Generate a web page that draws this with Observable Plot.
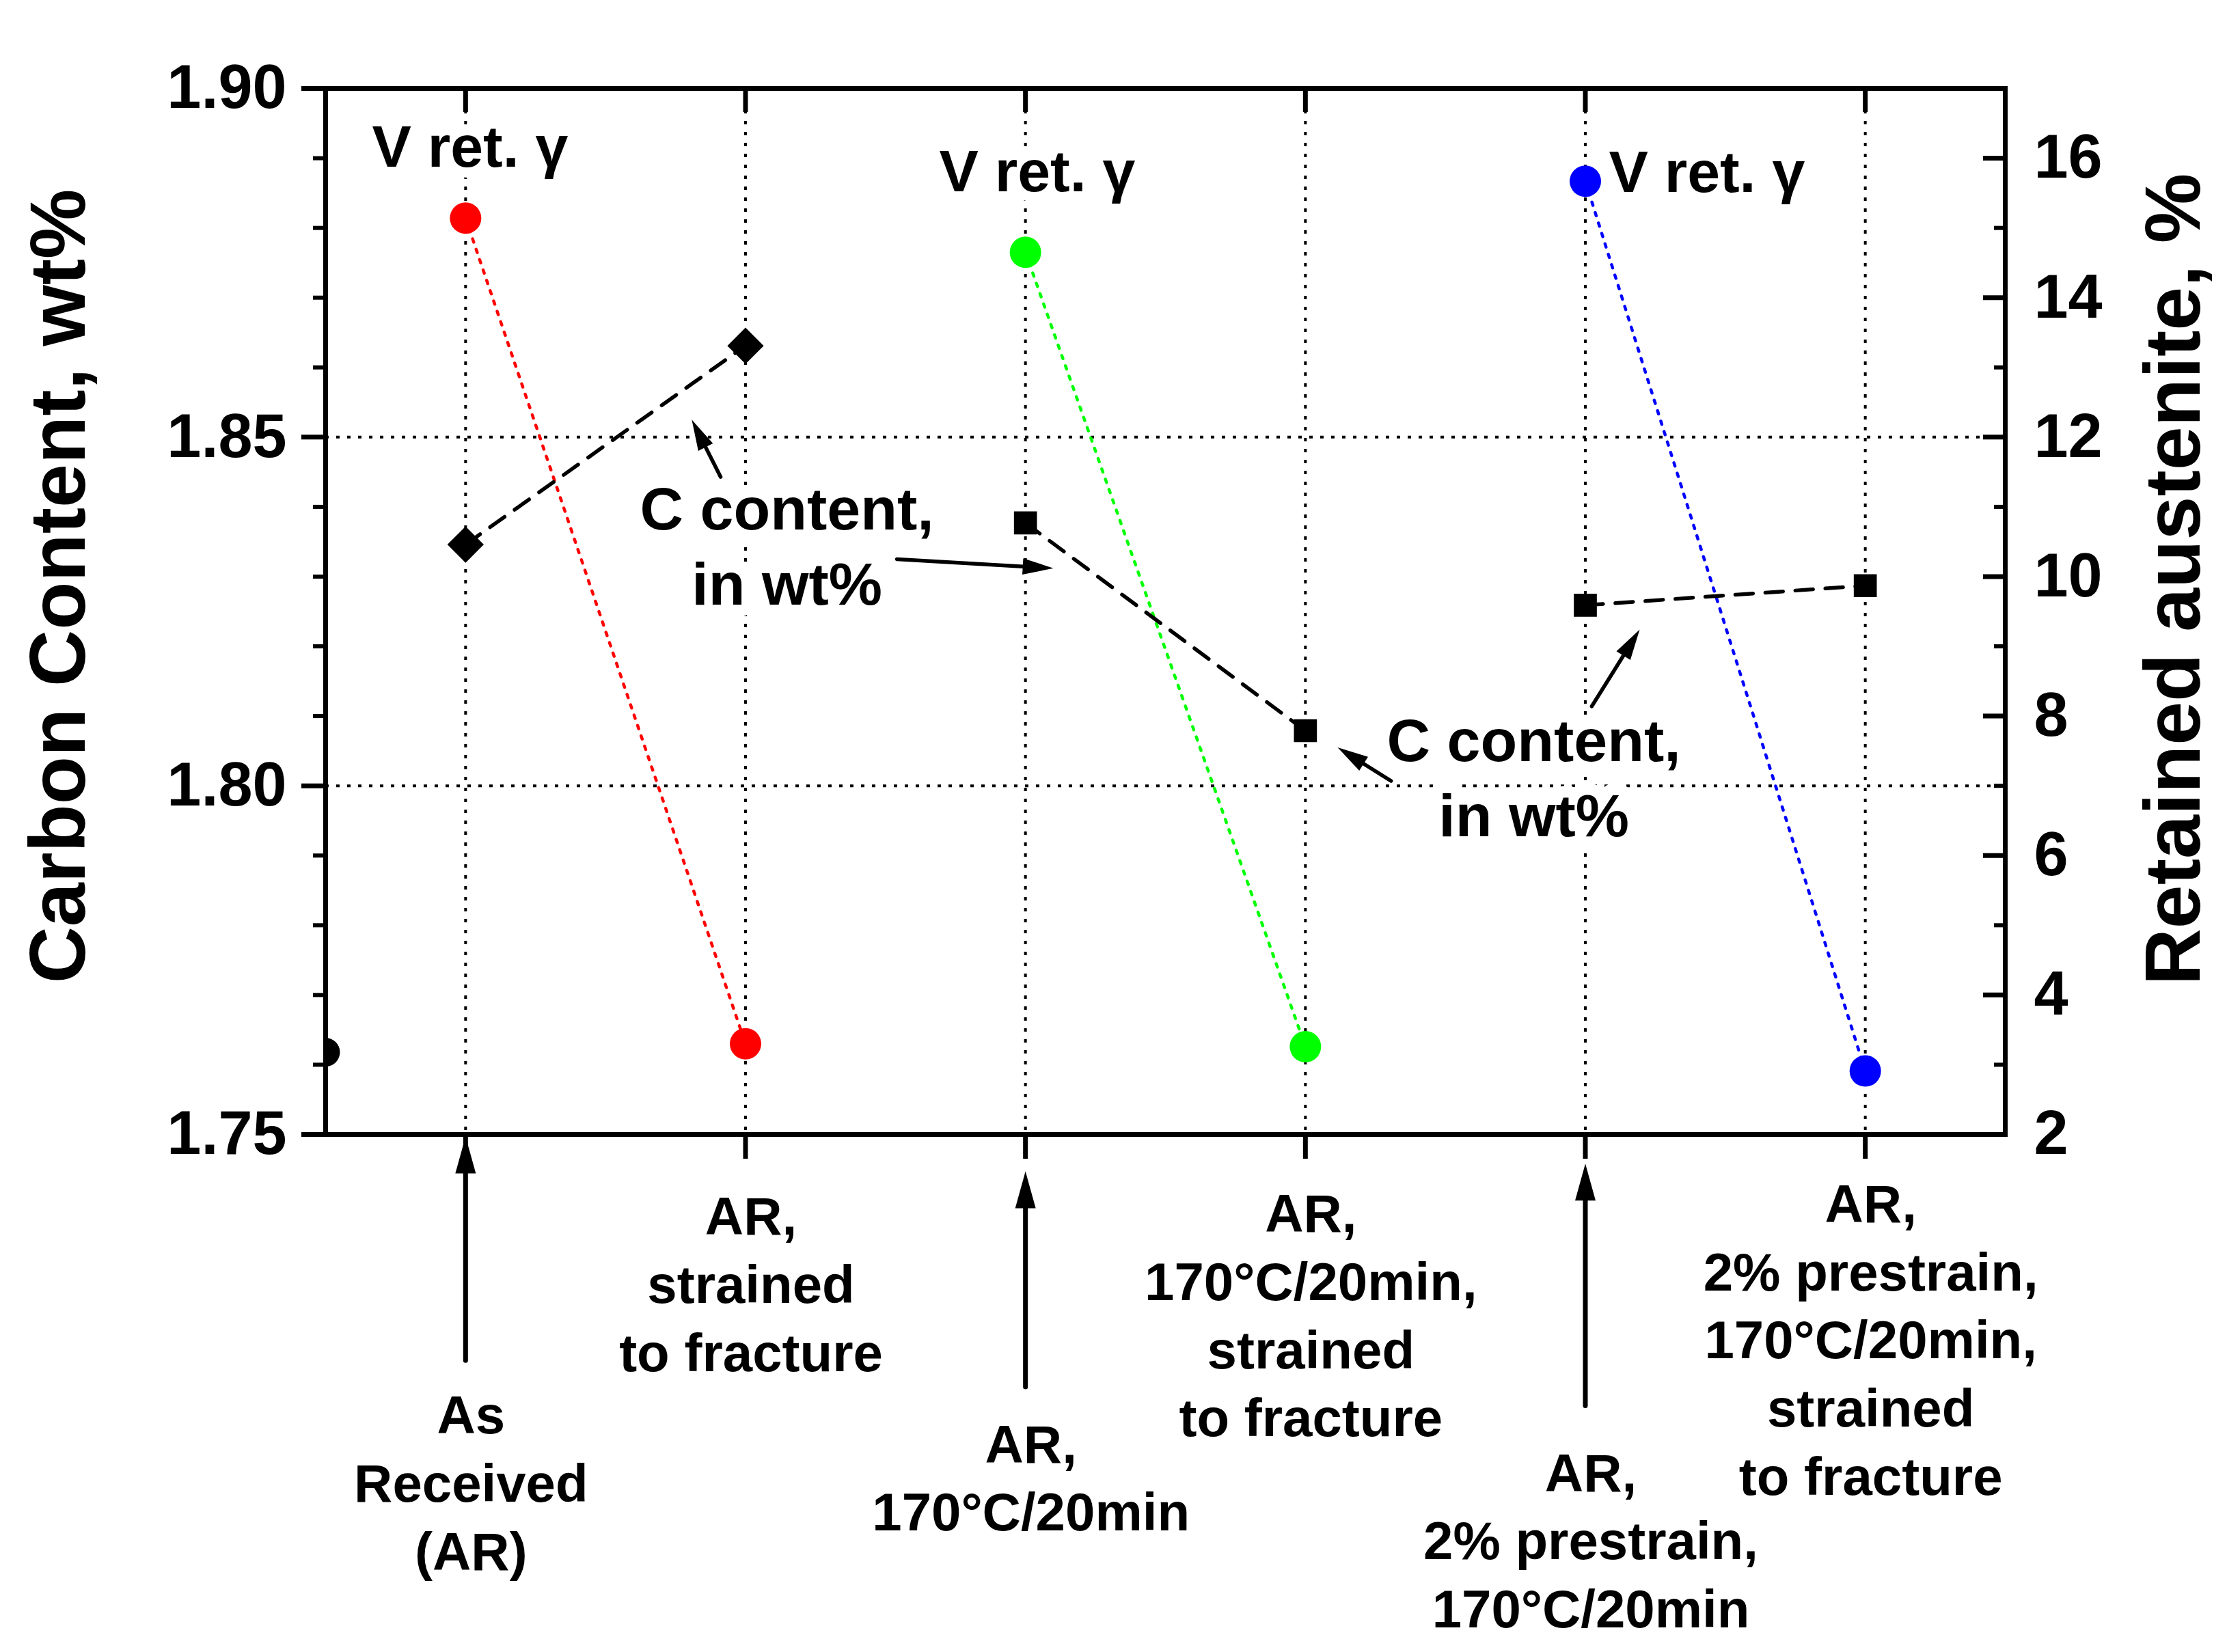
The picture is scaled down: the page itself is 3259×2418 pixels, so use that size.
<!DOCTYPE html>
<html>
<head>
<meta charset="utf-8">
<script src="https://cdn.jsdelivr.net/npm/d3@7"></script>
<script src="https://cdn.jsdelivr.net/npm/@observablehq/plot@0.6"></script>
<style>
html, body { margin: 0; padding: 0; background: #ffffff; }
</style>
</head>
<body>
<div id="chart"></div>
<script>
// ---------------- data ----------------
const categories = [1, 2, 3, 4, 5, 6];
const categoryLabels = [
  "As\nReceived\n(AR)",
  "AR,\nstrained\nto fracture",
  "AR,\n170°C/20min",
  "AR,\n170°C/20min,\nstrained\nto fracture",
  "AR,\n2% prestrain,\n170°C/20min",
  "AR,\n2% prestrain,\n170°C/20min,\nstrained\nto fracture"
];
const carbonContent = [1.8346, 1.8631, 1.8377, 1.8079, 1.8259, 1.8287];   // wt%
const retainedAustenite = [15.14, 3.30, 14.65, 3.26, 15.67, 2.91];        // %
const pairIndex = [0, 0, 1, 1, 2, 2];
const leftTicks = [1.75, 1.80, 1.85, 1.90];
const rightTicks = [2, 4, 6, 8, 10, 12, 14, 16];
const strayPoint = [{x: 0.5, c: 1.7618}];

// ---------------- layout ----------------
const W = 3259, H = 2418;
const mL = 476, mR = 325, mT = 129, mB = 758;
const xDomain = [0.5, 6.5];
const yDomain = [1.75, 1.90];
const raDomain = [2, 17];
const raToC = v => yDomain[0] + (v - raDomain[0]) * (yDomain[1] - yDomain[0]) / (raDomain[1] - raDomain[0]);
const cToRa = c => raDomain[0] + (c - yDomain[0]) * (raDomain[1] - raDomain[0]) / (yDomain[1] - yDomain[0]);
const kx = (W - mL - mR) / (xDomain[1] - xDomain[0]);
const ky = (H - mT - mB) / (yDomain[1] - yDomain[0]);

const rows = categories.map((x, i) => ({
  x, carbon: carbonContent[i], ra: raToC(retainedAustenite[i]), pair: pairIndex[i]
}));
const pairColors = ["#ff0000", "#00ff00", "#0000ff"];

const leftMinor = d3.range(1.75, 1.9001, 0.01).map(v => +v.toFixed(2)).filter(v => !leftTicks.includes(v));
const rightMajor = rightTicks.map(raToC);
const rightMinor = d3.range(3, 16, 2).map(raToC);

// annotation arrows (tail -> tip, in data units)
const innerArrows = [
  {x1: 1.911, y1: 1.8443, x2: 1.808, y2: 1.8525},
  {x1: 2.541, y1: 1.8325, x2: 3.100, y2: 1.8312},
  {x1: 4.306, y1: 1.8007, x2: 4.115, y2: 1.8055},
  {x1: 5.023, y1: 1.8114, x2: 5.194, y2: 1.8224}
];
const bottomArrows = [
  {x1: 1, y1: 1.7176, x2: 1, y2: 1.7497},
  {x1: 3, y1: 1.7138, x2: 3, y2: 1.7447},
  {x1: 5, y1: 1.7111, x2: 5, y2: 1.7458}
];
function headSymbol(len, wid) {
  return {draw(ctx) { ctx.moveTo(0, 0); ctx.lineTo(-wid / 2, len); ctx.lineTo(wid / 2, len); ctx.closePath(); }};
}
function prepArrow(a, len) {
  const dx = (a.x2 - a.x1) * kx, dy = (a.y2 - a.y1) * ky;
  const L = Math.hypot(dx, dy);
  const f = Math.min(1, len * 0.7 / L);
  return {...a, sx: a.x2 - (a.x2 - a.x1) * f, sy: a.y2 - (a.y2 - a.y1) * f,
          angle: Math.atan2(dx, dy) * 180 / Math.PI};
}
const innerA = innerArrows.map(a => prepArrow(a, 45));
const bottomA = bottomArrows.map(a => prepArrow(a, 54));

const vretLabels = [
  {x: 0.666, y: 1.8915, t: "V ret. γ"},
  {x: 2.692, y: 1.8880, t: "V ret. γ"},
  {x: 5.084, y: 1.8879, t: "V ret. γ"}
];
const cLabels = [
  {x: 2.148, y: 1.8348, t: "C content,\nin wt%"},
  {x: 4.816, y: 1.8016, t: "C content,\nin wt%"}
];
const labelY = [1.7005, 1.7290, 1.7012, 1.7245, 1.6922, 1.7210];
const bottomLabels = categories.map((x, i) => ({x, y: labelY[i], t: categoryLabels[i]}));

const halo = {stroke: "white", strokeWidth: 34, strokeLinejoin: "round", paintOrder: "stroke", fill: "black"};

const chart = Plot.plot({
  width: W, height: H,
  marginLeft: mL, marginRight: mR, marginTop: mT, marginBottom: mB,
  style: {fontFamily: "'Liberation Sans', Arial, sans-serif", fontWeight: "bold", background: "white", color: "black", overflow: "visible"},
  x: {type: "linear", domain: xDomain, label: null},
  y: {type: "linear", domain: yDomain, label: null},
  marks: [
    // grid
    Plot.ruleY([1.80, 1.85], {stroke: "black", strokeWidth: 4, strokeDasharray: "5,11"}),
    Plot.ruleX(categories, {stroke: "black", strokeWidth: 4, strokeDasharray: "5,11"}),
    // annotation texts with white halo
    Plot.text(vretLabels, {x: "x", y: "y", text: "t", textAnchor: "start", fontSize: 86, ...halo, strokeWidth: 30}),
    Plot.text(cLabels, {x: "x", y: "y", text: "t", fontSize: 88, lineHeight: 1.25, lineAnchor: "middle", ...halo}),
    // retained austenite dotted lines
    Plot.line(rows, {x: "x", y: "ra", z: "pair", stroke: d => pairColors[d.pair], strokeWidth: 4.5, strokeDasharray: "5,11"}),
    // carbon dashed lines
    Plot.line(rows, {x: "x", y: "carbon", z: "pair", stroke: "black", strokeWidth: 5.5, strokeDasharray: "26,18"}),
    // markers
    Plot.dot(rows, {x: "x", y: "ra", r: 23, fill: d => pairColors[d.pair], stroke: "none"}),
    Plot.dot(rows.filter(d => d.pair === 0), {x: "x", y: "carbon", symbol: "diamond2", r: 24, fill: "black", stroke: "none"}),
    Plot.dot(rows.filter(d => d.pair > 0), {x: "x", y: "carbon", symbol: "square", r: 19, fill: "black", stroke: "none"}),
    Plot.dot(strayPoint, {x: "x", y: "c", r: 21, fill: "black", stroke: "none", clip: true}),
    // inner arrows
    Plot.link(innerA, {x1: "x1", y1: "y1", x2: "sx", y2: "sy", stroke: "black", strokeWidth: 5.5, strokeLinecap: "round"}),
    Plot.dot(innerA, {x: "x2", y: "y2", rotate: "angle", symbol: headSymbol(45, 24), fill: "black", stroke: "none"}),
    // frame and axes
    Plot.frame({stroke: "black", strokeWidth: 7}),
    Plot.axisY({anchor: "left", ticks: leftTicks, tickFormat: d3.format(".2f"), tickSize: 35, tickPadding: 22, fontSize: 90, strokeWidth: 7, label: null}),
    Plot.axisY({anchor: "left", ticks: leftMinor, tickFormat: () => "", tickSize: 18, strokeWidth: 6, label: null}),
    Plot.axisY({anchor: "right", ticks: rightMajor, tickFormat: () => "", tickSize: 33, dx: -33, strokeWidth: 7, label: null}),
    Plot.axisY({anchor: "right", ticks: rightMinor, tickFormat: () => "", tickSize: 17, dx: -17, strokeWidth: 6, label: null}),
    Plot.axisY({anchor: "right", ticks: rightMajor, tickFormat: d => String(Math.round(cToRa(d))), tickSize: 0, tickPadding: 42, fontSize: 90, label: null}),
    Plot.axisX({anchor: "top", ticks: categories, tickFormat: () => "", tickSize: 34, dy: 34, strokeWidth: 7, label: null}),
    Plot.axisX({anchor: "bottom", ticks: categories, tickFormat: () => "", tickSize: 36, strokeWidth: 7, label: null}),
    // bottom arrows and labels
    Plot.link(bottomA, {x1: "x1", y1: "y1", x2: "sx", y2: "sy", stroke: "black", strokeWidth: 7, strokeLinecap: "round"}),
    Plot.dot(bottomA, {x: "x2", y: "y2", rotate: "angle", symbol: headSymbol(54, 30), fill: "black", stroke: "none"}),
    Plot.text(bottomLabels, {x: "x", y: "y", text: "t", dx: 8, fontSize: 78, lineHeight: 1.28, lineAnchor: "middle", fill: "black"}),
    // axis titles
    Plot.text(["Carbon Content, wt%"], {text: d => d, frameAnchor: "left", textAnchor: "middle", dx: -389, dy: -37, rotate: -90, fontSize: 115, fill: "black"}),
    Plot.text(["Retained austenite, %"], {text: d => d, frameAnchor: "right", textAnchor: "middle", dx: 248, dy: -47, rotate: -90, fontSize: 115, fill: "black"})
  ]
});
document.getElementById("chart").appendChild(chart);
</script>
</body>
</html>
